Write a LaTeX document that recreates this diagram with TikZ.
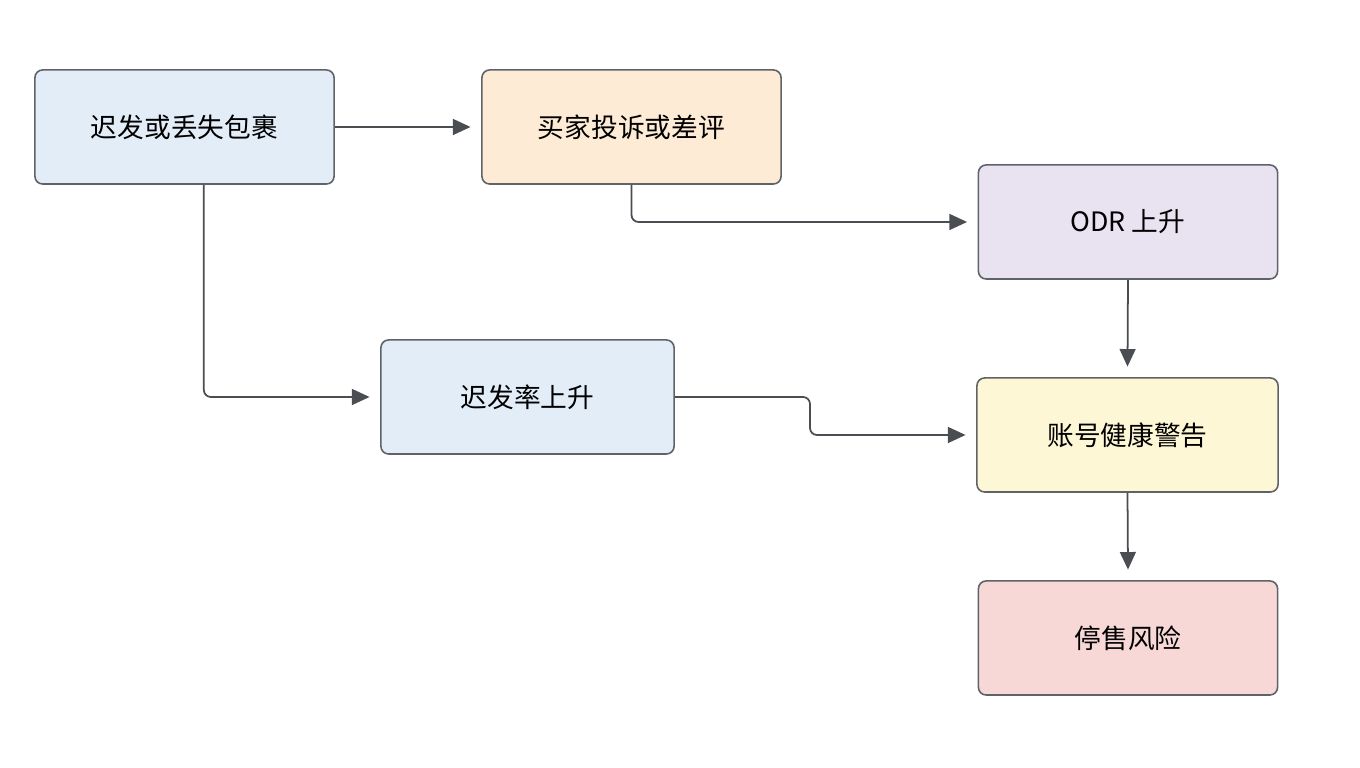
\documentclass[tikz,border=0pt]{standalone}
\usepackage{fontspec}
\setmainfont{Noto Sans CJK SC}
\usetikzlibrary{arrows.meta}
\definecolor{bd}{HTML}{5F6368}
\definecolor{fa}{HTML}{E3EDF8}
\definecolor{fb}{HTML}{FDEBD6}
\definecolor{fc}{HTML}{E8E2F1}
\definecolor{fe}{HTML}{FDF7D6}
\definecolor{ff}{HTML}{F8D7D7}
\definecolor{ln}{HTML}{4A4D52}
\begin{document}
\begin{tikzpicture}[x=0.01cm,y=-0.01cm,
 box/.style={draw=bd,line width=0.45pt,rounded corners=2.2pt,minimum width=2.99cm,minimum height=1.14cm,inner sep=0pt,font=\fontsize{7.6}{9}\selectfont},
 arr/.style={draw=ln,line width=0.5pt,rounded corners=2pt,-{Triangle[length=5pt,width=4.5pt]}}]
\useasboundingbox[fill=white] (0,0) rectangle (1360,768);
\node[box,fill=fa] (a) at (184.5,127) {迟发或丢失包裹};
\node[box,fill=fb] (b) at (631.5,127) {买家投诉或差评};
\node[box,fill=fc] (c) at (1128,222) {ODR 上升};
\node[box,fill=fa,minimum width=2.93cm] (d) at (527.5,397) {迟发率上升};
\node[box,fill=fe,minimum width=3.01cm] (e) at (1127.5,435) {账号健康警告};
\node[box,fill=ff] (f) at (1128,638) {停售风险};
\draw[arr] (a.east) -- ([xshift=-3pt]b.west);
\draw[arr] (b.south) |- ([xshift=-3pt]c.west);
\draw[arr] ([xshift=5.5]a.south) |- ([xshift=-3pt]d.west);
\draw[arr] (d.east) -- (810,397) -- (810,435) -- ([xshift=-3pt]e.west);
\draw[arr] (c.south) -- ([yshift=3pt]e.north);
\draw[arr] (e.south) -- ([yshift=3pt]f.north);
\end{tikzpicture}
\end{document}
